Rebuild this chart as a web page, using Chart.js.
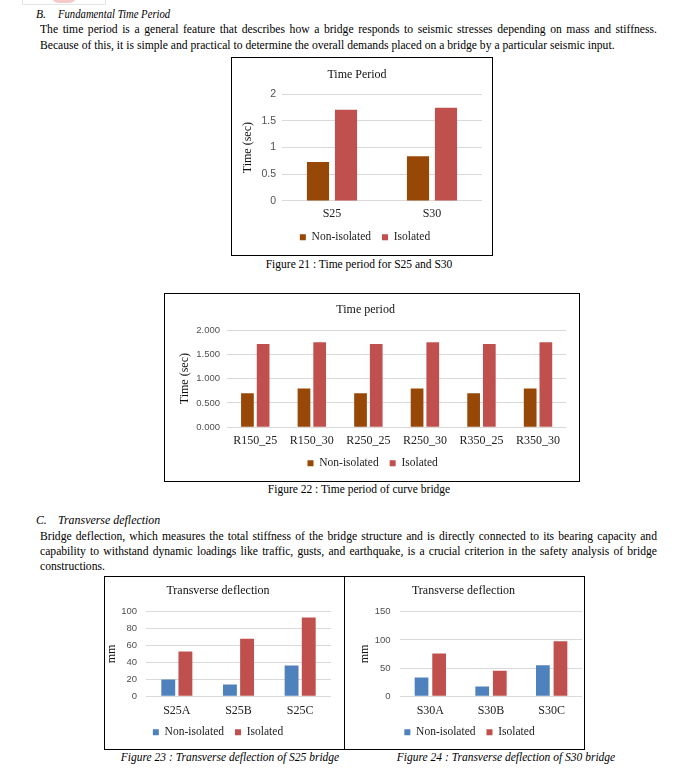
<!DOCTYPE html>
<html>
<head>
<meta charset="utf-8">
<script src="https://cdn.jsdelivr.net/npm/chart.js@4.4.0/dist/chart.umd.min.js"></script>
<style>
  body { margin: 0; width: 681px; height: 769px; position: relative; overflow: hidden; background: #fff;
         font-family: "Liberation Serif", "Times New Roman", serif; color: #000; }
  .t { position: absolute; white-space: nowrap; font-size: 12.5px; line-height: 16px; transform-origin: 0 50%; }
  .i { font-style: italic; }
  .cap { position: absolute; white-space: nowrap; font-size: 11.5px; line-height: 14px; transform: translateX(-50%); }
  .box { position: absolute; border: 1px solid #000; box-sizing: border-box; background: #fff; }
  .box canvas { position: absolute; left: 0; top: 0; }
  .deco { position: absolute; left: 22px; top: -6px; width: 84px; height: 11px; border: 1px solid #e4e4e4; box-sizing: border-box; }
  .deco div { position: absolute; left: 28px; top: 0; width: 26px; height: 8px; border-radius: 0 0 13px 13px; background: #f6c9c9; }
</style>
</head>
<body>
<div class="deco"><div></div></div>

<div class="t i" style="left:36px;top:6px">B.</div>
<div class="t i" data-fw="112" style="left:58px;top:6px">Fundamental Time Period</div>
<div class="t" data-w="617" data-j="1" style="left:40px;top:21px">The time period is a general feature that describes how a bridge responds to seismic stresses depending on mass and stiffness.</div>
<div class="t" id="ref" style="left:40px;top:37px">Because of this, it is simple and practical to determine the overall demands placed on a bridge by a particular seismic input.</div>

<div class="box" style="left:231px;top:57px;width:262px;height:199px"><canvas id="c1" width="260" height="197"></canvas></div>
<div class="cap" style="left:359px;top:257px">Figure 21 : Time period for S25 and S30</div>

<div class="box" style="left:164px;top:293px;width:416px;height:189px"><canvas id="c2" width="414" height="187"></canvas></div>
<div class="cap" style="left:359px;top:482px">Figure 22 : Time period of curve bridge</div>

<div class="t i" style="left:36px;top:512px">C.</div>
<div class="t i" data-fw="102" style="left:58px;top:512px">Transverse deflection</div>
<div class="t" data-w="617" data-j="1" style="left:40px;top:528px">Bridge deflection, which measures the total stiffness of the bridge structure and is directly connected to its bearing capacity and</div>
<div class="t" data-w="617" data-j="1" style="left:40px;top:543px">capability to withstand dynamic loadings like traffic, gusts, and earthquake, is a crucial criterion in the safety analysis of bridge</div>
<div class="t" style="left:40px;top:558px">constructions.</div>

<div class="box" style="left:104px;top:576px;width:241px;height:174px"><canvas id="c3" width="239" height="172"></canvas></div>
<div class="box" style="left:344px;top:576px;width:241px;height:174px"><canvas id="c4" width="239" height="172"></canvas></div>
<div class="cap i" style="left:230px;top:750px">Figure 23 : Transverse deflection of S25 bridge</div>
<div class="cap i" style="left:506px;top:750px">Figure 24 : Transverse deflection of S30 bridge</div>

<script>
// Figure 21
const fig21Labels = ['S25', 'S30'];
const fig21NonIso = [0.73, 0.84];
const fig21Iso = [1.71, 1.75];
const fig21Ticks = [0, 0.5, 1, 1.5, 2];

// Figure 22
const fig22Labels = ['R150_25', 'R150_30', 'R250_25', 'R250_30', 'R350_25', 'R350_30'];
const fig22NonIso = [0.70, 0.80, 0.70, 0.80, 0.70, 0.80];
const fig22Iso = [1.71, 1.75, 1.71, 1.75, 1.71, 1.75];
const fig22Ticks = [0, 0.5, 1, 1.5, 2];

// Figure 23
const fig23Labels = ['S25A', 'S25B', 'S25C'];
const fig23NonIso = [20, 14, 36.5];
const fig23Iso = [53, 68, 93];
const fig23Ticks = [0, 20, 40, 60, 80, 100];

// Figure 24
const fig24Labels = ['S30A', 'S30B', 'S30C'];
const fig24NonIso = [33.5, 17.5, 55];
const fig24Iso = [76, 45.5, 97.5];
const fig24Ticks = [0, 50, 100, 150];

const SERIF = '"Liberation Serif", "Times New Roman", serif';
const SANS = '"Liberation Sans", Arial, sans-serif';
const BROWN = '#974706';
const RED = '#C0504D';
const BLUE = '#4F81BD';

// squeeze the body text a bit, like the scanned page
function fitBodyText() {
  const ref = document.getElementById('ref');
  const s = 575 / ref.scrollWidth;
  document.querySelectorAll('.t').forEach(el => {
    let k = s;
    if (el.dataset.fw) k = el.dataset.fw / el.scrollWidth;
    if (el.dataset.j) {
      el.style.width = (el.dataset.w / s) + 'px';
      el.style.textAlign = 'justify';
      el.style.textAlignLast = 'justify';
      el.style.whiteSpace = 'normal';
    }
    el.style.transform = 'scaleX(' + k + ')';
  });
}
fitBodyText();

// nudge the legend sideways (Chart.js centres it including the trailing padding)
const legendShift = {
  id: 'legendShift',
  afterLayout(chart, args, opts) {
    if (!opts.dx) return;
    chart.legend.left += opts.dx;
    chart.legend.right += opts.dx;
  }
};

function drawBars(id, labels, nonIso, iso, ticks, colors, o) {
  const ctx = document.getElementById(id).getContext('2d');
  return new Chart(ctx, {
    type: 'bar',
    plugins: [legendShift],
    data: {
      labels,
      datasets: [
        { label: 'Non-isolated', data: nonIso, backgroundColor: colors[0] },
        { label: 'Isolated', data: iso, backgroundColor: colors[1] }
      ]
    },
    options: {
      responsive: false,
      animation: false,
      devicePixelRatio: 1,
      layout: { padding: { left: 0, right: o.padR, top: 0, bottom: o.padB } },
      datasets: { bar: { categoryPercentage: o.cp, barPercentage: o.bp } },
      plugins: {
        tooltip: { enabled: false },
        legendShift: { dx: o.legDx },
        title: {
          display: true, text: o.title, color: '#111',
          font: { family: SERIF, size: 12, weight: 'normal' },
          padding: { top: o.titleTop, bottom: o.titleBottom }
        },
        legend: {
          position: 'bottom',
          labels: { boxWidth: 6, boxHeight: 6, padding: 11, color: '#222',
                    font: { family: SERIF, size: 11.5 } }
        }
      },
      scales: {
        x: {
          grid: { display: false, drawTicks: false },
          border: { display: false },
          ticks: { color: '#222', padding: o.xPad, font: { family: SERIF, size: 12 } },
          afterFit: s => { s.height = o.xH; }
        },
        y: {
          min: ticks[0], max: ticks[ticks.length - 1],
          afterBuildTicks: s => { s.ticks = ticks.map(v => ({ value: v })); },
          grid: { color: '#d9d9d9', drawTicks: false },
          border: { display: false },
          ticks: { color: '#505050', padding: o.yPad, font: { family: SANS, size: o.tickSize },
                   callback: v => o.dec ? v.toFixed(o.dec) : String(v) },
          title: { display: true, text: o.yTitle, color: '#111',
                   font: { family: SERIF, size: 12 }, padding: { top: o.yTitlePad, bottom: 0 } },
          afterFit: s => { s.width = o.yW; }
        }
      }
    }
  });
}

drawBars('c1', fig21Labels, fig21NonIso, fig21Iso, fig21Ticks, [BROWN, RED], {
  title: 'Time Period', yTitle: 'Time (sec)', titleTop: 9.3, titleBottom: 12.6,
  padR: 10, padB: 2, xH: 19.6, xPad: 5.5, yW: 50, yPad: 6, yTitlePad: 9, tickSize: 10.5,
  cp: 0.56, bp: 0.79, legDx: 8
});

drawBars('c2', fig22Labels, fig22NonIso, fig22Iso, fig22Ticks, [BROWN, RED], {
  title: 'Time period', yTitle: 'Time (sec)', titleTop: 8.3, titleBottom: 13.3,
  padR: 12.7, padB: 2, xH: 19.2, xPad: 6, yW: 62, yPad: 7, yTitlePad: 13, tickSize: 9.5, dec: 3,
  cp: 0.555, bp: 0.81, legDx: 7
});

drawBars('c3', fig23Labels, fig23NonIso, fig23Iso, fig23Ticks, [BLUE, RED], {
  title: 'Transverse deflection', yTitle: 'mm', titleTop: 6.3, titleBottom: 14,
  padR: 13, padB: 1, xH: 19.2, xPad: 7, yW: 41, yPad: 9, yTitlePad: 0, tickSize: 9.5,
  cp: 0.556, bp: 0.81, legDx: 0
});

drawBars('c4', fig24Labels, fig24NonIso, fig24Iso, fig24Ticks, [BLUE, RED], {
  title: 'Transverse deflection', yTitle: 'mm', titleTop: 6.3, titleBottom: 14,
  padR: 2, padB: 1, xH: 19.2, xPad: 7, yW: 55, yPad: 9.5, yTitlePad: 13, tickSize: 9.5,
  cp: 0.58, bp: 0.78, legDx: 6
});
</script>
</body>
</html>
